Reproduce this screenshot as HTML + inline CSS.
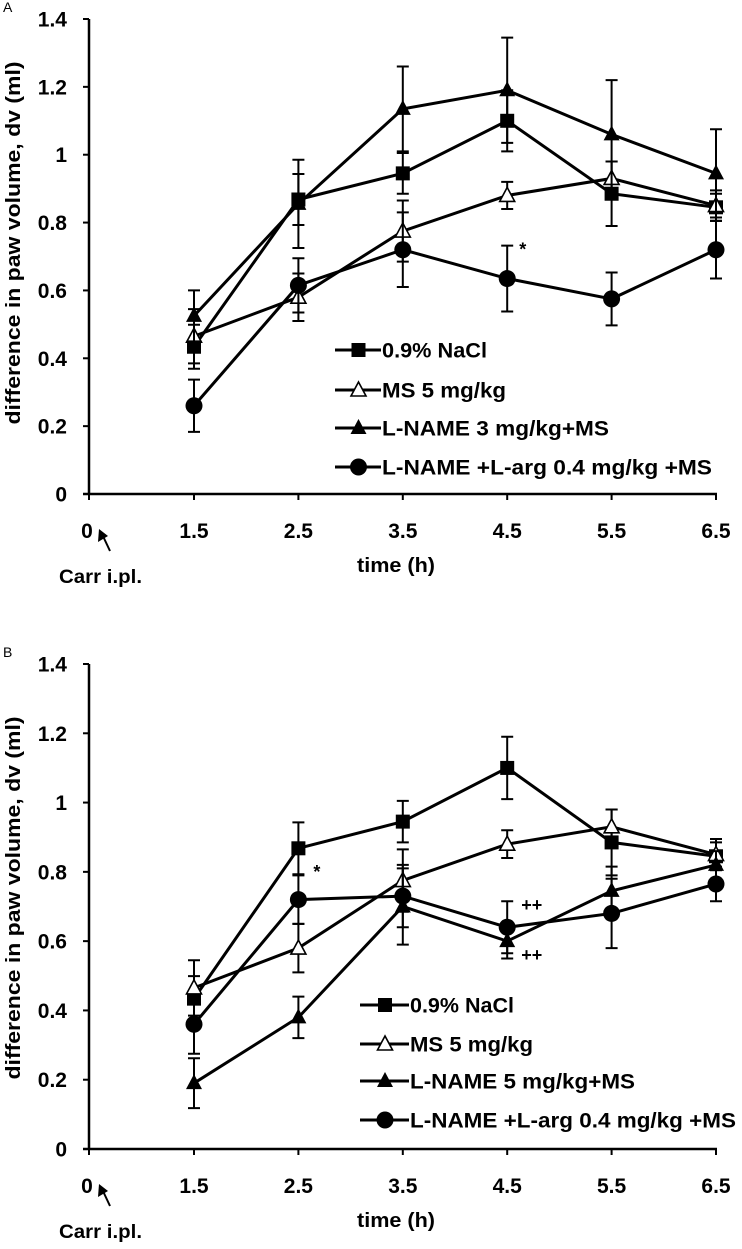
<!DOCTYPE html>
<html><head><meta charset="utf-8"><style>
body{margin:0;background:#fff;}
svg{display:block;font-family:"Liberation Sans",Arial,sans-serif;}
</style></head><body>
<svg id="fig" width="742" height="1249" viewBox="0 0 742 1249"></svg>
<script>
const categories=["1.5","2.5","3.5","4.5","5.5","6.5"];
const yTicks=[0,0.2,0.4,0.6,0.8,1,1.2,1.4];
const yTickLabels=["0","0.2","0.4","0.6","0.8","1","1.2","1.4"];
const naclVals=[0.434,0.868,0.945,1.10,0.885,0.845];
const naclErr=[0.065,0.075,0.06,0.09,0.095,0.04];
const msVals=[0.465,0.58,0.775,0.88,0.93,0.85];
const msErr=[0.08,0.07,0.09,0.04,0.05,0.045];
const lname3Vals=[0.525,0.855,1.135,1.19,1.06,0.945];
const lname3Err=[0.075,0.13,0.125,0.155,0.16,0.13];
const largAVals=[0.26,0.615,0.72,0.635,0.575,0.72];
const largAErr=[0.077,0.08,0.11,0.097,0.078,0.085];
const lname5Vals=[0.19,0.38,0.70,0.60,0.745,0.82];
const lname5Err=[0.072,0.06,0.11,0.05,0.07,0.04];
const largBVals=[0.36,0.72,0.73,0.64,0.68,0.765];
const largBErr=[0.085,0.07,0.09,0.075,0.1,0.05];

const NS="http://www.w3.org/2000/svg";
const svg=document.getElementById('fig');
function mk(tag,attrs,parent){const e=document.createElementNS(NS,tag);for(const k in attrs)e.setAttribute(k,attrs[k]);(parent||svg).appendChild(e);return e;}

function panel(cfg){
  const g=mk('g',{});
  
  
  const x0=89, x15=194, step=104.4;
  const xs=i=>x15+i*step;
  const ys=v=>cfg.y0-(v/1.4)*(cfg.y0-cfg.y14);
  const L=mk('text',{x:3,y:cfg.y14-7,'font-size':14},g);L.textContent=cfg.letter;
  
  
  const ya=mk('line',{x1:x0,y1:cfg.y14,x2:x0,y2:cfg.y0,stroke:'#000','stroke-width':2.5},g);
  
  
  const xa=mk('line',{x1:x0-6,y1:cfg.y0,x2:xs(5)+1,y2:cfg.y0,stroke:'#000','stroke-width':2.5},g);
  
  
  yTicks.forEach((t,i)=>{
    mk('line',{x1:x0-6,y1:ys(t),x2:x0,y2:ys(t),stroke:'#000','stroke-width':2},g);
    const tx=mk('text',{x:x0-22,y:ys(t)+7.5,'font-size':21,'font-weight':'bold','text-anchor':'end'},g);
    tx.textContent=yTickLabels[i];
    
    
  });
  mk('line',{x1:x0,y1:cfg.y0,x2:x0,y2:cfg.y0+6,stroke:'#000','stroke-width':2},g);
  const z=mk('text',{x:x0-2,y:cfg.y0+44,'font-size':21,'font-weight':'bold','text-anchor':'middle'},g);z.textContent='0';
  
  
  categories.forEach((c,i)=>{
    mk('line',{x1:xs(i),y1:cfg.y0,x2:xs(i),y2:cfg.y0+6,stroke:'#000','stroke-width':2},g);
    const tx=mk('text',{x:xs(i),y:cfg.y0+44,'font-size':21,'font-weight':'bold','text-anchor':'middle'},g);
    tx.textContent=c;
    
    
  });
  const xt=mk('text',{x:357,y:cfg.y0+78,'font-size':20,'font-weight':'bold',textLength:78,lengthAdjust:'spacingAndGlyphs'},g);xt.textContent='time (h)';
  
  
  const yt=mk('text',{x:0,y:0,'font-size':20,'font-weight':'bold','text-anchor':'middle',textLength:363,lengthAdjust:'spacingAndGlyphs',transform:`translate(20,${cfg.y0-251}) rotate(-90)`},g);
  yt.textContent='difference in paw volume, dv (ml)';
  
  
  const ar=mk('g',{},g);
  
  
  mk('line',{x1:110,y1:cfg.y0+57,x2:102,y2:cfg.y0+40,stroke:'#000','stroke-width':2},ar);
  mk('polygon',{points:`${99},${cfg.y0+35} ${98},${cfg.y0+48} ${108},${cfg.y0+42}`,fill:'#000'},ar);
  const ct=mk('text',{x:59,y:cfg.y0+89,'font-size':19,'font-weight':'bold',textLength:83,lengthAdjust:'spacingAndGlyphs'},g);ct.textContent='Carr i.pl.';
  
  

  function marker(type,cx,cy,parent){
    if(type==='square') return mk('rect',{x:cx-7,y:cy-7,width:14,height:14,fill:'#000'},parent);
    if(type==='tri') return mk('polygon',{points:`${cx},${cy-9} ${cx-8},${cy+6} ${cx+8},${cy+6}`,fill:'#000'},parent);
    if(type==='otri') return mk('polygon',{points:`${cx},${cy-8} ${cx-7.5},${cy+6} ${cx+7.5},${cy+6}`,fill:'#fff',stroke:'#000','stroke-width':1.6},parent);
    return mk('circle',{cx:cx,cy:cy,r:8.5,fill:'#000'},parent);
  }
  cfg.series.forEach(s=>{
    const sg=mk('g',{},g);
    
    
    s.vals.forEach((v,i)=>{
      const e=s.err[i],x=xs(i);
      const eb=mk('path',{d:`M${x},${ys(v+e)}V${ys(v-e)}M${x-6},${ys(v+e)}H${x+6}M${x-6},${ys(v-e)}H${x+6}`,stroke:'#000','stroke-width':2,fill:'none'},sg);
      
      
    });
    const pl=mk('polyline',{points:s.vals.map((v,i)=>`${xs(i)},${ys(v)}`).join(' '),fill:'none',stroke:'#000','stroke-width':3},sg);
    
    
    s.vals.forEach((v,i)=>{
      const m=marker(s.type,xs(i),ys(v),sg);
      
      
    });
  });
  cfg.notes.forEach(n=>{
    const t=mk('text',{x:xs(n.i)+n.dx,y:ys(n.v)+6,'font-size':n.s,'font-weight':'bold'},g);t.textContent=n.t;
    
    
  });
  const lg=mk('g',{},g);
  
  
  cfg.series.forEach((s,i)=>{
    const y=cfg.legY[i];
    const eg=mk('g',{},lg);
    
    
    mk('line',{x1:cfg.legX,y1:y,x2:cfg.legTX-1,y2:y,stroke:'#000','stroke-width':3},eg);
    marker(s.type,(cfg.legX+cfg.legTX)/2,y,eg);
    const t=mk('text',{x:cfg.legTX,y:y+7.5,'font-size':21,'font-weight':'bold',textLength:cfg.legW[i],lengthAdjust:'spacingAndGlyphs'},eg);t.textContent=s.label;
  });
}

panel({name:'panel-a',letter:'A',y0:494,y14:19,legX:335,legTX:382,legY:[350,390,428,467],legW:[105,124,227,330],
  series:[
    {name:'series-nacl',type:'square',vals:naclVals,err:naclErr,label:'0.9% NaCl'},
    {name:'series-ms',type:'otri',vals:msVals,err:msErr,label:'MS 5 mg/kg'},
    {name:'series-lname3',type:'tri',vals:lname3Vals,err:lname3Err,label:'L-NAME 3 mg/kg+MS'},
    {name:'series-larg',type:'circle',vals:largAVals,err:largAErr,label:'L-NAME  +L-arg 0.4  mg/kg +MS'}],
  notes:[{i:3,dx:12,v:0.72,t:'*',s:18}]});
panel({name:'panel-b',letter:'B',y0:1149,y14:664,legX:360,legTX:410,legY:[1005,1044,1081,1120],legW:[104,123,225,326],
  series:[
    {name:'series-nacl',type:'square',vals:naclVals,err:naclErr,label:'0.9% NaCl'},
    {name:'series-ms',type:'otri',vals:msVals,err:msErr,label:'MS 5 mg/kg'},
    {name:'series-lname5',type:'tri',vals:lname5Vals,err:lname5Err,label:'L-NAME 5 mg/kg+MS'},
    {name:'series-larg',type:'circle',vals:largBVals,err:largBErr,label:'L-NAME  +L-arg 0.4  mg/kg +MS'}],
  notes:[{i:1,dx:15,v:0.80,t:'*',s:18},{i:3,dx:14,v:0.705,t:'++',s:18},{i:3,dx:14,v:0.56,t:'++',s:18}]});
</script>
</body></html>
